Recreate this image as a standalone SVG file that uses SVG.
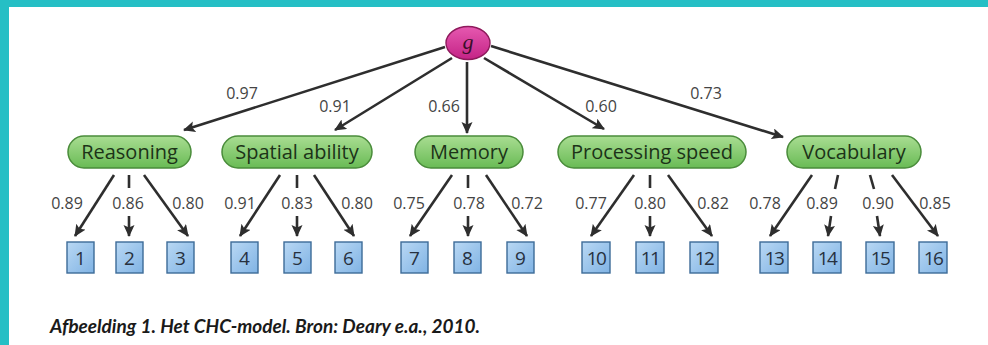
<svg xmlns="http://www.w3.org/2000/svg" width="988" height="345" viewBox="0 0 988 345">
<defs>
<linearGradient id="gPill" x1="0" y1="0" x2="0" y2="1">
<stop offset="0" stop-color="#a9dd92"/>
<stop offset="1" stop-color="#69bb55"/>
</linearGradient>
<linearGradient id="gBox" x1="0" y1="0" x2="1" y2="1">
<stop offset="0" stop-color="#b9d8f4"/>
<stop offset="1" stop-color="#80b3e4"/>
</linearGradient>
<linearGradient id="gG" x1="0" y1="0" x2="0" y2="1">
<stop offset="0" stop-color="#e659b0"/>
<stop offset="1" stop-color="#c42386"/>
</linearGradient>
<marker id="ah" markerUnits="userSpaceOnUse" markerWidth="13" markerHeight="12" refX="11" refY="5.5" orient="auto">
<path d="M0,0 L12,5.5 L0,11 L2.5,5.5 z" fill="#2e2e2e"/>
</marker>
</defs>
<style>
.pill{fill:url(#gPill);stroke:#4a8c3b;stroke-width:1.5}
.ptx{font-family:"Open Sans","Liberation Sans",sans-serif;font-size:20px;fill:#1c3318;text-anchor:middle}
.box{fill:url(#gBox);stroke:#3d6b98;stroke-width:1.4}
.btx{font-family:"Open Sans","Liberation Sans",sans-serif;font-size:19px;fill:#27313f;text-anchor:middle}
.lbl{font-family:"Open Sans","Liberation Sans",sans-serif;font-size:16px;fill:#444;text-anchor:middle}
.ln{stroke:#2e2e2e;stroke-width:2.6;fill:none}
.ar{stroke:#2e2e2e;stroke-width:2.6;fill:none;marker-end:url(#ah)}
</style>
<rect x="0" y="0" width="988" height="345" fill="#fff"/>
<rect x="0" y="0" width="988" height="7" fill="#25bfc5"/>
<rect x="0" y="0" width="9" height="345" fill="#25bfc5"/>

<g id="connectors">
<path class="ar" d="M445,47 L184,130"/>
<path class="ar" d="M452,58 L335,130"/>
<path class="ar" d="M467,62 L467,133"/>
<path class="ar" d="M484,58 L604,129"/>
<path class="ar" d="M491,46 L783,137"/>

<path class="ar" d="M114,175 L75,236"/>
<path class="ln" d="M129,175 L129,188"/>
<path class="ar" d="M129,216 L129,236"/>
<path class="ar" d="M144,175 L188,236"/>

<path class="ar" d="M280,175 L240,236"/>
<path class="ln" d="M297,175 L297,188"/>
<path class="ar" d="M297,216 L297,236"/>
<path class="ar" d="M314,175 L354,236"/>

<path class="ar" d="M452,175 L410,236"/>
<path class="ln" d="M468,175 L468,188"/>
<path class="ar" d="M468,216 L468,236"/>
<path class="ar" d="M486,175 L527,236"/>

<path class="ar" d="M634,175 L591,236"/>
<path class="ln" d="M650,175 L650,188"/>
<path class="ar" d="M650,216 L650,236"/>
<path class="ar" d="M668,175 L712,236"/>

<path class="ar" d="M812,175 L770,236"/>
<path class="ln" d="M838,175 L835,189"/>
<path class="ar" d="M831,216 L828,236"/>
<path class="ln" d="M870,175 L874,189"/>
<path class="ar" d="M877,216 L880,236"/>
<path class="ar" d="M892,175 L938,236"/>
</g>

<g id="loadings">
<text class="lbl" x="242" y="99">0.97</text>
<text class="lbl" x="335" y="112">0.91</text>
<text class="lbl" x="444" y="112">0.66</text>
<text class="lbl" x="601" y="112">0.60</text>
<text class="lbl" x="706" y="99">0.73</text>
<text class="lbl" x="67" y="209">0.89</text>
<text class="lbl" x="128" y="209">0.86</text>
<text class="lbl" x="188" y="209">0.80</text>
<text class="lbl" x="240" y="209">0.91</text>
<text class="lbl" x="297" y="209">0.83</text>
<text class="lbl" x="357" y="209">0.80</text>
<text class="lbl" x="409" y="209">0.75</text>
<text class="lbl" x="469" y="209">0.78</text>
<text class="lbl" x="527" y="209">0.72</text>
<text class="lbl" x="591" y="209">0.77</text>
<text class="lbl" x="650" y="209">0.80</text>
<text class="lbl" x="713" y="209">0.82</text>
<text class="lbl" x="765" y="209">0.78</text>
<text class="lbl" x="822" y="209">0.89</text>
<text class="lbl" x="878" y="209">0.90</text>
<text class="lbl" x="935" y="209">0.85</text>
</g>

<g id="g">
<ellipse cx="468" cy="43" rx="22" ry="16.5" fill="url(#gG)" stroke="#8e1a5c" stroke-width="1.4"/>
<text x="468" y="49" font-family="'Liberation Serif',serif" font-style="italic" font-size="22" fill="#3a0f2c" text-anchor="middle">g</text>
</g>

<g id="reasoning"><rect class="pill" x="68" y="136" width="123" height="32" rx="16"/><text class="ptx" x="129.5" y="159">Reasoning</text></g>
<g id="spatial"><rect class="pill" x="222" y="136" width="150" height="32" rx="16"/><text class="ptx" x="297" y="159">Spatial ability</text></g>
<g id="memory"><rect class="pill" x="415" y="136" width="108" height="32" rx="16"/><text class="ptx" x="469" y="159">Memory</text></g>
<g id="processing"><rect class="pill" x="558" y="136" width="188" height="32" rx="16"/><text class="ptx" x="652" y="159">Processing speed</text></g>
<g id="vocabulary"><rect class="pill" x="787" y="136" width="134" height="32" rx="16"/><text class="ptx" x="854" y="159">Vocabulary</text></g>

<g id="t1"><rect class="box" x="67" y="242" width="27" height="31"/><text class="btx" x="80.5" y="264.5">1</text></g>
<g id="t2"><rect class="box" x="116" y="242" width="27" height="31"/><text class="btx" x="129.5" y="264.5">2</text></g>
<g id="t3"><rect class="box" x="167" y="242" width="27" height="31"/><text class="btx" x="180.5" y="264.5">3</text></g>
<g id="t4"><rect class="box" x="231" y="242" width="27" height="31"/><text class="btx" x="244.5" y="264.5">4</text></g>
<g id="t5"><rect class="box" x="284" y="242" width="27" height="31"/><text class="btx" x="297.5" y="264.5">5</text></g>
<g id="t6"><rect class="box" x="335" y="242" width="27" height="31"/><text class="btx" x="348.5" y="264.5">6</text></g>
<g id="t7"><rect class="box" x="401" y="242" width="27" height="31"/><text class="btx" x="414.5" y="264.5">7</text></g>
<g id="t8"><rect class="box" x="454" y="242" width="27" height="31"/><text class="btx" x="467.5" y="264.5">8</text></g>
<g id="t9"><rect class="box" x="507" y="242" width="27" height="31"/><text class="btx" x="520.5" y="264.5">9</text></g>
<g id="t10"><rect class="box" x="582" y="242" width="28" height="31"/><text class="btx" x="596" y="264.5" letter-spacing="-1.5">10</text></g>
<g id="t11"><rect class="box" x="636" y="242" width="28" height="31"/><text class="btx" x="650" y="264.5" letter-spacing="-1.5">11</text></g>
<g id="t12"><rect class="box" x="690" y="242" width="28" height="31"/><text class="btx" x="704" y="264.5" letter-spacing="-1.5">12</text></g>
<g id="t13"><rect class="box" x="760" y="242" width="28" height="31"/><text class="btx" x="774" y="264.5" letter-spacing="-1.5">13</text></g>
<g id="t14"><rect class="box" x="813" y="242" width="28" height="31"/><text class="btx" x="827" y="264.5" letter-spacing="-1.5">14</text></g>
<g id="t15"><rect class="box" x="866" y="242" width="28" height="31"/><text class="btx" x="880" y="264.5" letter-spacing="-1.5">15</text></g>
<g id="t16"><rect class="box" x="919" y="242" width="28" height="31"/><text class="btx" x="933" y="264.5" letter-spacing="-1.5">16</text></g>

<text x="50" y="333" font-family="Lato,'Open Sans',sans-serif" font-style="italic" font-weight="bold" font-size="19" fill="#1a1a1a">Afbeelding 1. Het CHC-model. Bron: Deary e.a., 2010.</text>
</svg>
